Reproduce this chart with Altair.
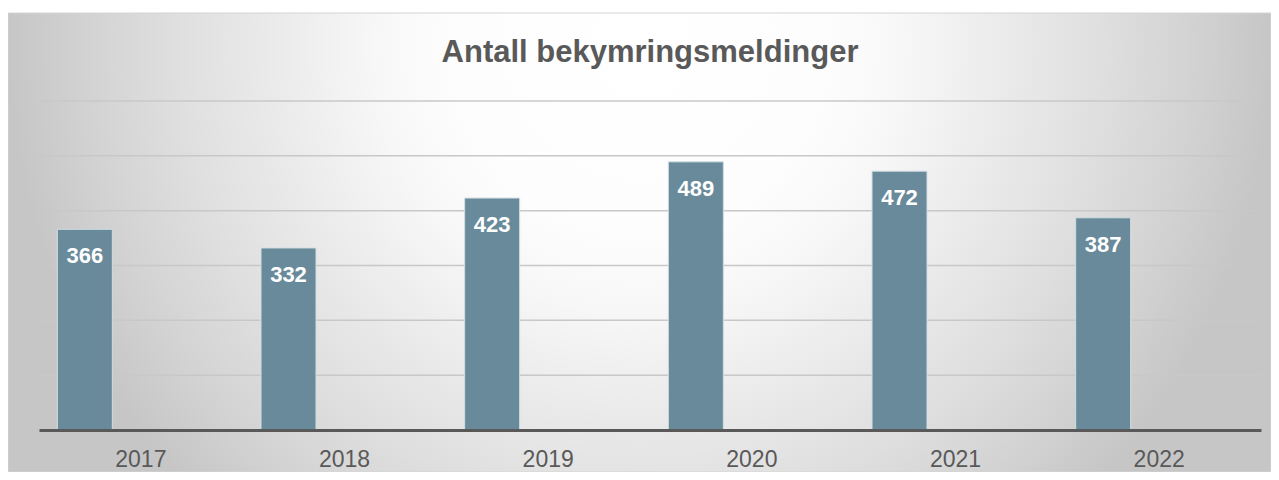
import altair as alt
import pandas as pd

# ---- data ----
years = ["2017", "2018", "2019", "2020", "2021", "2022"]
values = [366, 332, 423, 489, 472, 387]
grid_values = [100, 200, 300, 400, 500, 600]
title_text = "Antall bekymringsmeldinger"

FONT = "Liberation Sans"
W, H = 1222, 329

df = pd.DataFrame({"year": years, "value": values})
grid_df = pd.DataFrame({"g": grid_values})
one = pd.DataFrame({"t": [title_text]})

yscale = alt.Scale(domain=[0, 600], nice=False, zero=True)
xscale = alt.Scale(paddingInner=0, paddingOuter=0)

bg = alt.Chart(one).mark_rect(
    color=alt.Gradient(
        gradient="radial",
        stops=[
            alt.GradientStop(color="#ffffff", offset=0),
            alt.GradientStop(color="#fdfdfd", offset=0.3),
            alt.GradientStop(color="#f7f7f7", offset=0.42),
            alt.GradientStop(color="#ececec", offset=0.56),
            alt.GradientStop(color="#e0e0e0", offset=0.72),
            alt.GradientStop(color="#d3d3d3", offset=0.87),
            alt.GradientStop(color="#c6c6c6", offset=1),
        ],
        x1=0.5, y1=0.345, r1=0,
        x2=0.5, y2=0.345, r2=0.5,
    ),
    stroke="#d4d4d4",
    strokeWidth=1,
).encode(
    x=alt.value(-31), x2=alt.value(W + 10),
    y=alt.value(-88), y2=alt.value(H + 42),
)

grid = alt.Chart(grid_df).mark_rule(color="#c8c8c8", strokeWidth=1.5).encode(
    y=alt.Y("g:Q", scale=yscale, axis=None),
    x=alt.value(0),
    x2=alt.value(W),
)

bars = alt.Chart(df).mark_bar(
    width=55, xOffset=-56, color="#688a9b", stroke="#d3dee3", strokeWidth=1
).encode(
    x=alt.X(
        "year:N", sort=years, scale=xscale, title=None,
        axis=alt.Axis(
            ticks=False, tickSize=0, grid=False, labelAngle=0,
            labelFont=FONT, labelFontSize=23, labelColor="#595959",
            labelBaseline="alphabetic", labelPadding=36,
            domainColor="#595959", domainWidth=3, zindex=1,
        ),
    ),
    y=alt.Y("value:Q", scale=yscale, axis=None),
)

labels = alt.Chart(df).mark_text(
    color="white", font=FONT, fontSize=22, fontWeight="bold",
    baseline="middle", align="center", dy=27, xOffset=-56,
).encode(
    x=alt.X("year:N", sort=years, scale=xscale),
    y=alt.Y("value:Q", scale=yscale, axis=None),
    text=alt.Text("value:Q"),
)

title = alt.Chart(one).mark_text(
    font=FONT, fontSize=31, fontWeight="bold", color="#595959",
    align="center", baseline="alphabetic",
).encode(
    x=alt.value(W / 2), y=alt.value(-39), text="t:N",
)

chart = alt.layer(bg, grid, bars, labels, title).properties(
    width=W, height=H,
    autosize=alt.AutoSizeParams(type="none"),
    padding={"left": 31, "right": 10, "top": 93, "bottom": 42},
).configure_view(stroke=None)

chart.save("out.html", embed_options={"renderer": "svg", "actions": False})
